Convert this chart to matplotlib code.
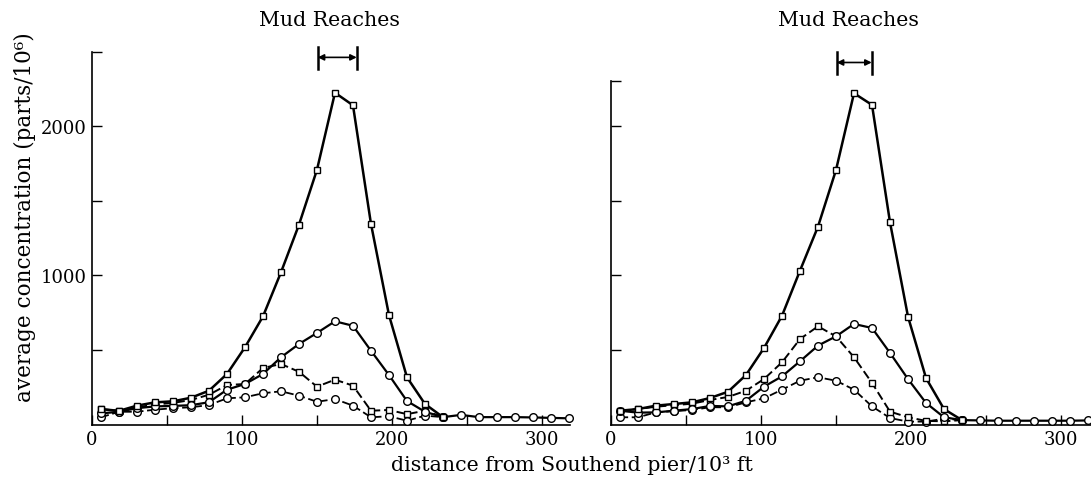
import numpy as np
import matplotlib.pyplot as plt

# stations along the estuary (10^3 ft from Southend pier)
x = [6, 18, 30, 42, 54, 66, 78, 90, 102, 114, 126, 138, 150, 162,
     174, 186, 198, 210, 222, 234, 246, 258, 270, 282, 294, 306, 318]

# left panel (parts/10^6)
left_sq_solid = [104, 92, 127, 149, 156, 180, 227, 339, 518, 725, 1020, 1339, 1707, 2223,
                 2139, 1345, 734, 317, 138, 50]
left_sq_dash = [104, 92, 115, 135, 145, 165, 200, 265, 272, 379, 406, 354, 254, 301,
                261, 93, 98, 70, 93, 50]
left_ci_solid = [75, 86, 110, 122, 125, 130, 150, 234, 272, 339, 451, 540, 614, 692,
                 662, 495, 332, 158, 86, 50, 65, 50, 50, 50, 48, 45, 42]
left_ci_dash = [49, 86, 86, 100, 110, 116, 131, 176, 183, 210, 223, 194, 153, 171,
                127, 49, 56, 26, 60, 50]

# right panel
right_sq_solid = [93, 104, 127, 138, 149, 178, 220, 332, 513, 729, 1031, 1326, 1705, 2219,
                  2141, 1355, 723, 312, 104, 30]
right_sq_dash = [93, 104, 120, 130, 140, 165, 185, 227, 305, 417, 573, 658, 591, 451,
                 279, 87, 49, 25, 22, 30]
right_ci_solid = [93, 80, 82, 93, 104, 125, 122, 160, 254, 323, 424, 529, 591, 674,
                  647, 480, 305, 145, 49, 30, 28, 26, 26, 26, 26, 26, 28]
right_ci_dash = [49, 49, 82, 90, 98, 116, 116, 149, 176, 234, 294, 317, 294, 234,
                 122, 44, 20, 20, 40, 30]

# extent of the mud reaches (10^3 ft)
left_reach = [150.5, 176.5]
right_reach = [150.5, 173.8]

plt.rcParams['font.family'] = ['DejaVu Serif']
plt.rcParams['font.size'] = 13

fig = plt.figure(figsize=(10.91, 4.85), dpi=100)
ax1 = fig.add_axes([92 / 1091, 59.4 / 485, 478 / 1091, 372.6 / 485])
ax2 = fig.add_axes([611 / 1091, 59.4 / 485, 480 / 1091, 343.6 / 485])


def draw(ax, sq_solid, sq_dash, ci_solid, ci_dash, reach, bar_y, ytop, xtop):
    mk = dict(color='black', markerfacecolor='white', markeredgecolor='black',
              markeredgewidth=1.0, clip_on=False)
    ax.plot(x[:len(ci_dash)], ci_dash, marker='o', ms=5.5, lw=1.3,
            ls=(0, (4.5, 2)), zorder=3, **mk)
    ax.plot(x[:len(sq_dash)], sq_dash, marker='s', ms=5.0, lw=1.4,
            ls=(0, (4.5, 2)), zorder=3, **mk)
    ax.plot(x[:len(ci_solid)], ci_solid, marker='o', ms=5.5, lw=1.6, zorder=4, **mk)
    ax.plot(x[:len(sq_solid)], sq_solid, marker='s', ms=5.0, lw=1.8, zorder=5, **mk)

    # mud reaches marker |<->|
    ax.annotate('', xy=(reach[1], bar_y), xytext=(reach[0], bar_y),
                arrowprops=dict(arrowstyle='<|-|>', color='black', lw=1.2,
                                mutation_scale=9, shrinkA=0, shrinkB=0),
                annotation_clip=False)
    for r in reach:
        ax.plot([r, r], [bar_y - 80, bar_y + 70], color='black', lw=1.8,
                clip_on=False)

    ax.set_xlim(0, xtop)
    ax.set_ylim(0, ytop)
    ax.spines['top'].set_visible(False)
    ax.spines['right'].set_visible(False)
    for s in ('left', 'bottom'):
        ax.spines[s].set_linewidth(1.2)
    ax.set_xticks([0, 50, 100, 150, 200, 250, 300])
    ax.set_xticklabels(['0', '', '100', '', '200', '', '300'])
    ax.set_yticks([500, 1000, 1500, 2000, ytop])
    ax.tick_params(direction='in', length=7, width=1.0, pad=4, labelsize=13)


draw(ax1, left_sq_solid, left_sq_dash, left_ci_solid, left_ci_dash,
     left_reach, 2460, 2496, 318.7)
draw(ax2, right_sq_solid, right_sq_dash, right_ci_solid, right_ci_dash,
     right_reach, 2425, 2301, 320)

ax1.set_yticklabels(['', '1000', '', '2000', ''])
ax2.set_yticklabels(['', '', '', '', ''])

fig.text(329 / 1091, 1 - 20 / 485, 'Mud Reaches', ha='center', va='center', fontsize=14.8)
fig.text(848 / 1091, 1 - 20 / 485, 'Mud Reaches', ha='center', va='center', fontsize=14.8)
fig.text(572 / 1091, 1 - 466 / 485, 'distance from Southend pier/10³ ft',
         ha='center', va='center', fontsize=14.8)
fig.text(25 / 1091, 1 - 217 / 485, 'average concentration (parts/10⁶)',
         ha='center', va='center', rotation=90, fontsize=15.5)

fig.savefig('out.png', dpi=100)
